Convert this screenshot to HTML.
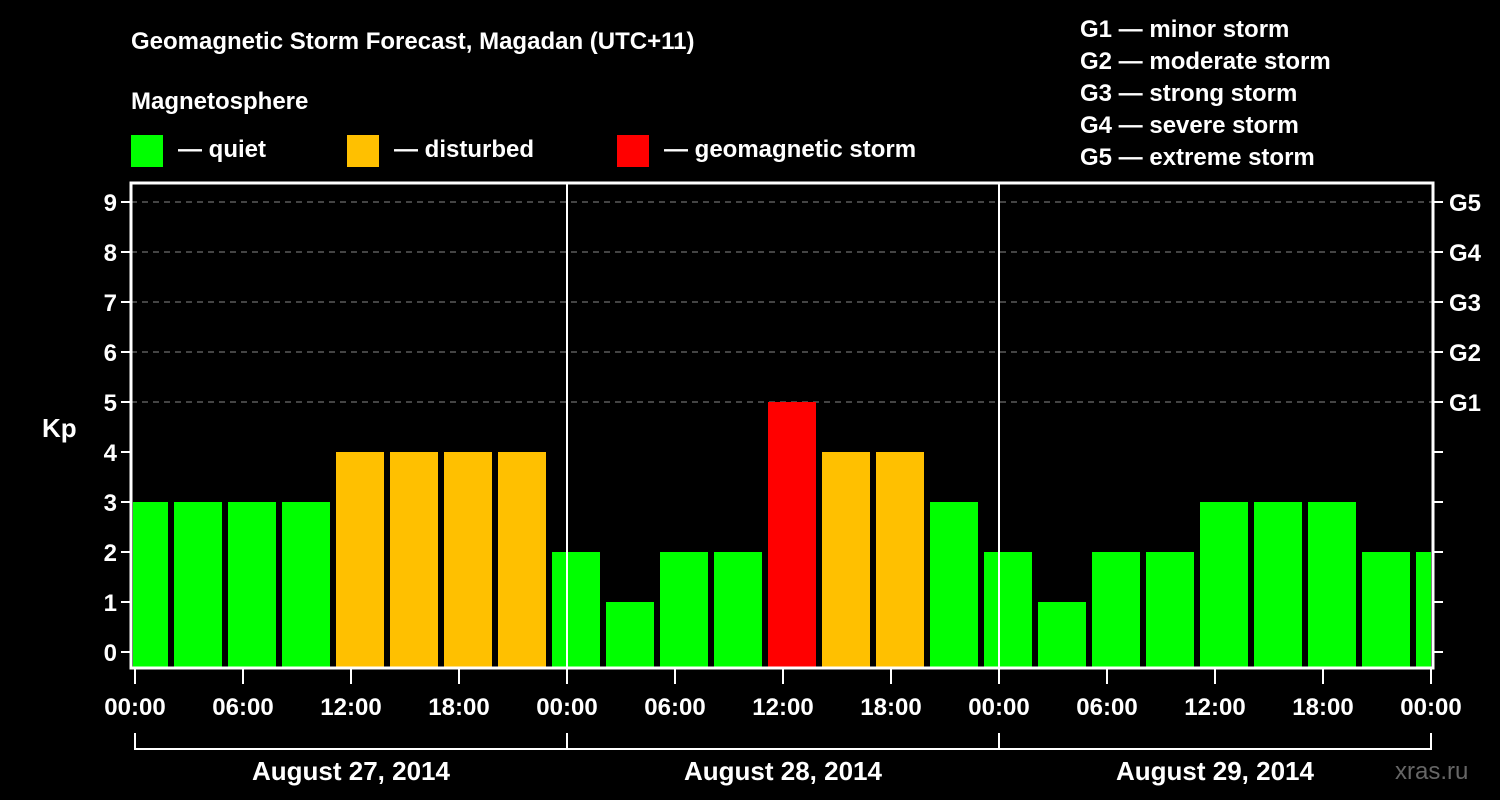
<!DOCTYPE html>
<html><head><meta charset="utf-8"><style>
body{margin:0;background:#000;}
svg{display:block;font-family:"Liberation Sans",sans-serif;font-weight:bold;}
</style></head><body>
<svg id="c" width="1500" height="800" viewBox="0 0 1500 800">
<rect width="1500" height="800" fill="#000"/>
<text x="131" y="49" fill="#fff" font-size="24">Geomagnetic Storm Forecast, Magadan (UTC+11)</text>
<text x="131" y="109" fill="#fff" font-size="24">Magnetosphere</text>
<g><rect x="131" y="135" width="32" height="32" fill="#00ff00"/><text x="178" y="157" fill="#fff" font-size="24">— quiet</text></g>
<g><rect x="347" y="135" width="32" height="32" fill="#ffc000"/><text x="394" y="157" fill="#fff" font-size="24">— disturbed</text></g>
<g><rect x="617" y="135" width="32" height="32" fill="#ff0000"/><text x="664" y="157" fill="#fff" font-size="24">— geomagnetic storm</text></g>
<g fill="#fff" font-size="24">
<text x="1080" y="37">G1 — minor storm</text>
<text x="1080" y="69">G2 — moderate storm</text>
<text x="1080" y="101">G3 — strong storm</text>
<text x="1080" y="133">G4 — severe storm</text>
<text x="1080" y="165">G5 — extreme storm</text>
</g>
<text x="42" y="437" fill="#fff" font-size="26">Kp</text>
<text x="1395" y="779" fill="#666" font-size="24" font-weight="normal">xras.ru</text>
<g id="plot"></g>
</svg>
<script>
const kpValues=[3,3,3,3,4,4,4,4,2,1,2,2,5,4,4,3,2,1,2,2,3,3,3,2,2];
const xTickLabels=["00:00","06:00","12:00","18:00","00:00","06:00","12:00","18:00","00:00","06:00","12:00","18:00","00:00"];
const dayLabels=["August 27, 2014","August 28, 2014","August 29, 2014"];
const yTicks=[0,1,2,3,4,5,6,7,8,9];
const gLabels=["G1","G2","G3","G4","G5"];
const NS="http://www.w3.org/2000/svg";
const L=131,R=1433,T=183,B=668;
const x=h=>135+18*h;
const y=v=>652-50*v;
const g=document.getElementById('plot');
function mk(t,a,p){const e=document.createElementNS(NS,t);for(const k in a)e.setAttribute(k,a[k]);(p||g).appendChild(e);return e;}
const clip=mk('clipPath',{id:'pc'});mk('rect',{x:L+2,y:T,width:R-L-4,height:B-T},clip);
// grid
for(let v=5;v<=9;v++){const l=mk('line',{x1:L,x2:R,y1:y(v),y2:y(v),stroke:'#888','stroke-dasharray':'6,5','stroke-width':1});

}
// bars
const bg=mk('g',{'clip-path':'url(#pc)'});
kpValues.forEach((v,i)=>{const h0=-0.8333+3*i;const col=v>=5?'#ff0000':v===4?'#ffc000':'#00ff00';
const r=mk('rect',{x:x(h0),y:y(v),width:18*2.6667,height:B-y(v),fill:col},bg);

});
// day separators
[1,2].forEach(d=>{const l=mk('line',{x1:x(24*d),x2:x(24*d),y1:T,y2:B,stroke:'#fff','stroke-width':2});

});
// frame
const f=mk('rect',{x:L,y:T,width:R-L,height:B-T,fill:'none',stroke:'#fff','stroke-width':3});


// y ticks
yTicks.forEach(v=>{mk('line',{x1:L-10,x2:L,y1:y(v),y2:y(v),stroke:'#fff','stroke-width':2});
mk('line',{x1:R,x2:R+10,y1:y(v),y2:y(v),stroke:'#fff','stroke-width':2});
const t=mk('text',{x:L-14,y:y(v)+9,fill:'#fff','font-size':24,'text-anchor':'end'});t.textContent=v;

});
gLabels.forEach((s,i)=>{const t=mk('text',{x:1449,y:y(5+i)+9,fill:'#fff','font-size':24});t.textContent=s;

});
// x ticks
xTickLabels.forEach((s,i)=>{const xx=x(6*i);mk('line',{x1:xx,x2:xx,y1:B,y2:B+16,stroke:'#fff','stroke-width':2});
const t=mk('text',{x:xx,y:715,fill:'#fff','font-size':24,'text-anchor':'middle'});t.textContent=s;

});
// day brackets
mk('line',{x1:x(0),x2:x(72),y1:749,y2:749,stroke:'#fff','stroke-width':2});
[0,1,2,3].forEach(d=>mk('line',{x1:x(24*d),x2:x(24*d),y1:733,y2:750,stroke:'#fff','stroke-width':2}));
dayLabels.forEach((s,i)=>{const t=mk('text',{x:x(24*i+12),y:780,fill:'#fff','font-size':26,'text-anchor':'middle'});t.textContent=s;

});
</script>
</body></html>
